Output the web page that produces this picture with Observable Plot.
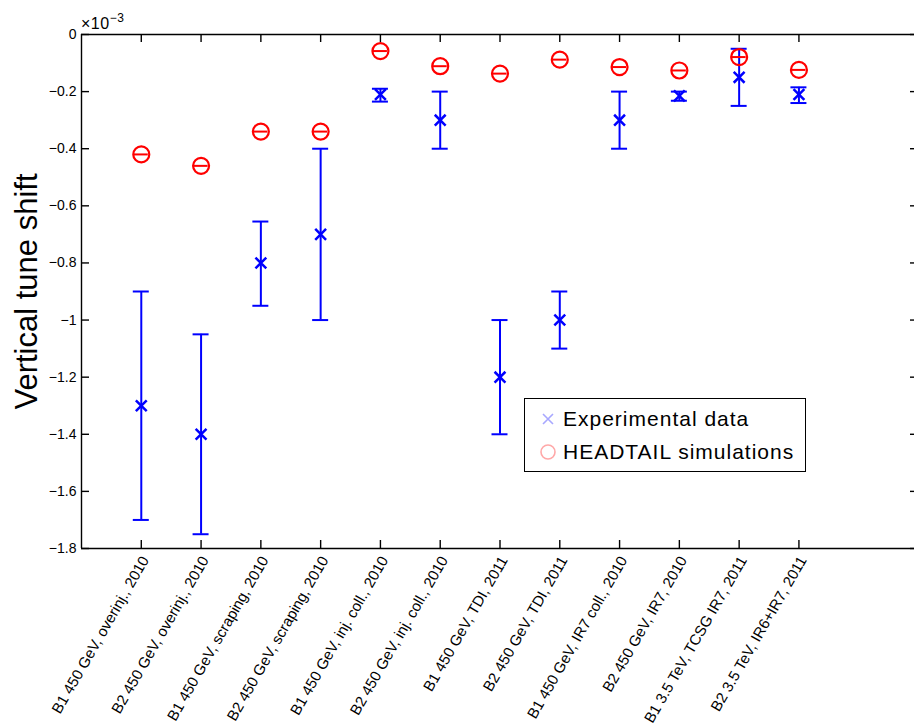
<!DOCTYPE html>
<html>
<head>
<meta charset="utf-8">
<script src="https://cdn.jsdelivr.net/npm/d3@7"></script>
<script src="https://cdn.jsdelivr.net/npm/@observablehq/plot@0.6"></script>
<style>
  body { margin: 0; background: #fff; }
  #wrap { position: relative; width: 914px; height: 727px; overflow: hidden; font-family: "Liberation Sans", Arial, sans-serif; background: #fff; }
  #exp { position: absolute; left: 81px; top: 12px; font-size: 16px; color: #000; letter-spacing: 0.5px; }
  #exp sup { font-size: 12px; position: relative; top: -1px; }
  #legend { position: absolute; left: 524px; top: 398px; width: 280px; height: 72px; border: 1.5px solid #000; background: #fff; font-size: 21px; letter-spacing: 1px; }
  .row { position: absolute; left: 0; height: 30px; display: flex; align-items: center; }
  .row svg { margin-left: 14px; margin-right: 6px; }
  g[aria-label="x-tick-labels"] text { letter-spacing: 0.5px; }
  g[aria-label="y-tick-labels"] text { letter-spacing: 0.6px; }
  g[aria-label="y-label"] text { letter-spacing: 1.2px; }
</style>
</head>
<body>
<div id="wrap"></div>
<script>
const categories = [
  "B1 450 GeV, overinj., 2010",
  "B2 450 GeV, overinj., 2010",
  "B1 450 GeV, scraping, 2010",
  "B2 450 GeV, scraping, 2010",
  "B1 450 GeV, inj. coll., 2010",
  "B2 450 GeV, inj. coll., 2010",
  "B1 450 GeV, TDI, 2011",
  "B2 450 GeV, TDI, 2011",
  "B1 450 GeV, IR7 coll., 2010",
  "B2 450 GeV, IR7, 2010",
  "B1 3.5 TeV, TCSG IR7, 2011",
  "B2 3.5 TeV, IR6+IR7, 2011"
];
// Experimental data (units of 1e-3)
const expValues = [-1.3, -1.4, -0.8, -0.7, -0.21, -0.3, -1.2, -1.0, -0.3, -0.215, -0.15, -0.21];
const expLow    = [-1.7, -1.75, -0.95, -1.0, -0.235, -0.4, -1.4, -1.1, -0.4, -0.232, -0.25, -0.24];
const expHigh   = [-0.9, -1.05, -0.655, -0.4, -0.19, -0.2, -1.0, -0.9, -0.2, -0.2, -0.05, -0.185];
// HEADTAIL simulations (units of 1e-3)
const simValues = [-0.42, -0.46, -0.34, -0.34, -0.058, -0.111, -0.137, -0.088, -0.114, -0.126, -0.079, -0.124];

const yTicks = [0, -0.2, -0.4, -0.6, -0.8, -1, -1.2, -1.4, -1.6, -1.8];
const yTickLabels = ["0", "\u22120.2", "\u22120.4", "\u22120.6", "\u22120.8", "\u22121", "\u22121.2", "\u22121.4", "\u22121.6", "\u22121.8"];
const xDomain = [0, 14];
const yDomain = [-1.8, 0];
const yLabel = "Vertical tune shift";
const legendLabels = ["Experimental data", "HEADTAIL simulations"];

const rows = categories.map((c, i) => ({
  pos: i + 1, label: c, exp: expValues[i], lo: expLow[i], hi: expHigh[i], sim: simValues[i]
}));

const font = "'Liberation Sans', Arial, sans-serif";
const blue = "#0000ff";
const red = "#ff0000";

const chart = Plot.plot({
  width: 914,
  height: 727,
  marginLeft: 81,
  marginRight: 0,
  marginTop: 34,
  marginBottom: 179,
  x: {domain: xDomain, range: [81, 918], axis: null},
  y: {domain: yDomain, axis: null},
  style: {fontFamily: font, background: "transparent", overflow: "visible"},
  marks: [
    // box
    Plot.ruleY(yDomain, {stroke: "#000", strokeWidth: 1.4}),
    Plot.ruleX(xDomain, {stroke: "#000", strokeWidth: 1.4}),
    // x ticks bottom and top
    Plot.ruleX(rows, {x: "pos", y1: yDomain[0], y2: yDomain[0], insetBottom: 8, stroke: "#000", strokeWidth: 1.4}),
    Plot.ruleX(rows, {x: "pos", y1: yDomain[1], y2: yDomain[1], insetTop: 8, stroke: "#000", strokeWidth: 1.4}),
    // y ticks left and right
    Plot.ruleY(yTicks, {y: d => d, x1: xDomain[0], x2: xDomain[0], insetRight: -8, stroke: "#000", strokeWidth: 1.4}),
    Plot.ruleY(yTicks, {y: d => d, x1: xDomain[1], x2: xDomain[1], insetLeft: -8, stroke: "#000", strokeWidth: 1.4}),
    // y tick labels
    Plot.text(yTicks, {x: xDomain[0], y: d => d, text: (d, i) => yTickLabels[i], textAnchor: "end", dx: -5, fontSize: 14, fill: "#000", ariaLabel: "y-tick-labels"}),
    // x tick labels
    Plot.text(rows, {x: "pos", y: yDomain[0], text: "label", rotate: -60, textAnchor: "end", dx: 4, dy: 9, fontSize: 15, fill: "#000", ariaLabel: "x-tick-labels"}),
    // y label
    Plot.text([yLabel], {frameAnchor: "left", text: d => d, rotate: -90, textAnchor: "middle", dx: -54, fontSize: 31, fill: "#000", ariaLabel: "y-label"}),
    // experimental error bars
    Plot.ruleX(rows, {x: "pos", y1: "lo", y2: "hi", stroke: blue, strokeWidth: 2}),
    Plot.ruleY(rows, {x1: "pos", x2: "pos", y: "lo", insetLeft: -8, insetRight: -8, stroke: blue, strokeWidth: 2}),
    Plot.ruleY(rows, {x1: "pos", x2: "pos", y: "hi", insetLeft: -8, insetRight: -8, stroke: blue, strokeWidth: 2}),
    Plot.dot(rows, {x: "pos", y: "exp", symbol: "times", r: 5, stroke: blue, strokeWidth: 2.5}),
    // simulations
    Plot.ruleY(rows, {x1: "pos", x2: "pos", y: "sim", insetLeft: -7, insetRight: -7, stroke: red, strokeWidth: 2}),
    Plot.dot(rows, {x: "pos", y: "sim", r: 8, stroke: red, strokeWidth: 2.2})
  ]
});

const wrap = document.getElementById("wrap");
wrap.appendChild(chart);

const expo = document.createElement("div");
expo.id = "exp";
expo.innerHTML = "&times;10<sup>\u22123</sup>";
wrap.appendChild(expo);

const legend = document.createElement("div");
legend.id = "legend";
legend.innerHTML = `
  <div class="row" style="top:5px"><svg width="18" height="18"><path d="M4,4L14,14M14,4L4,14" stroke="#a8a8ff" stroke-width="1.6"/></svg><span>${legendLabels[0]}</span></div>
  <div class="row" style="top:38px"><svg width="18" height="18"><circle cx="9" cy="9" r="7" fill="none" stroke="#ffa8a8" stroke-width="1.6"/></svg><span>${legendLabels[1]}</span></div>`;
wrap.appendChild(legend);
</script>
</body>
</html>
